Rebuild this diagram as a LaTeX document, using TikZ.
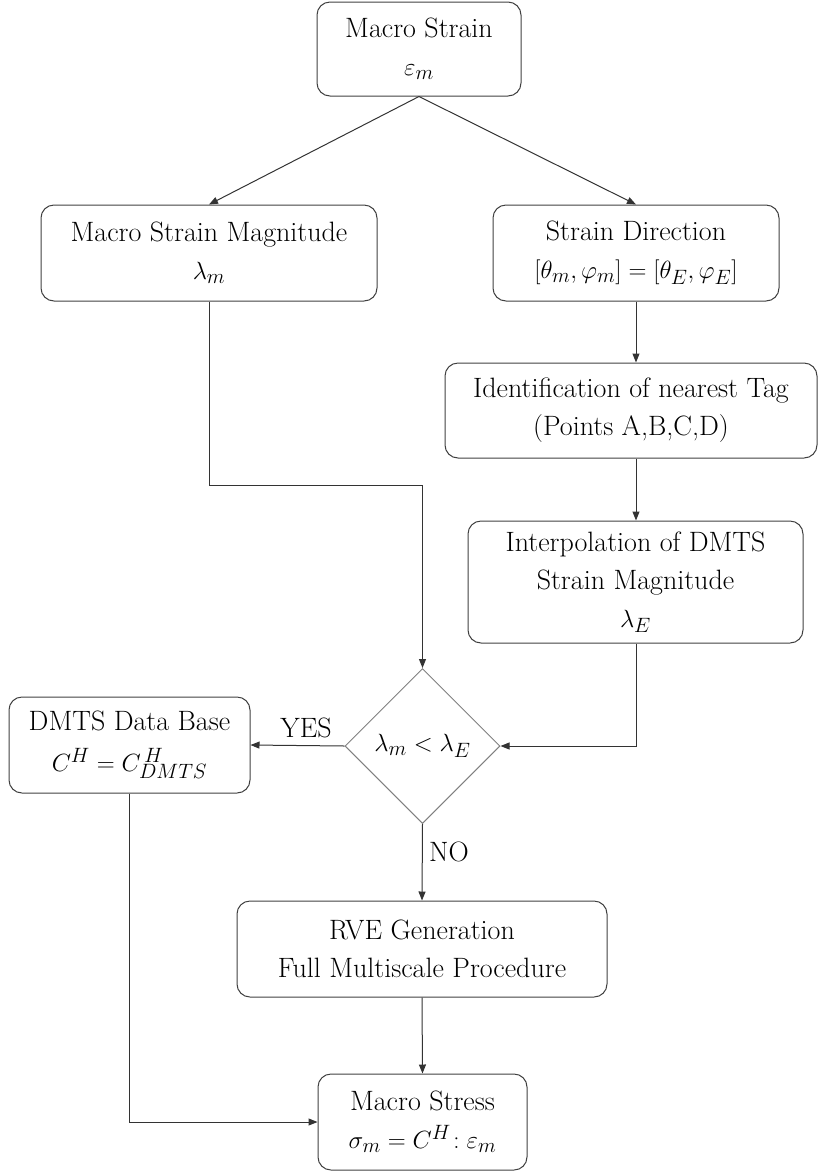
\documentclass[tikz,border=0pt]{standalone}
\usetikzlibrary{shapes.geometric,arrows.meta}
\begin{document}
\begin{tikzpicture}[x=1pt,y=-1pt,
  box/.style={draw=black!75,line width=1pt,rounded corners=13pt,align=center,inner sep=0pt,
    font=\fontsize{28}{38}\selectfont},
  dec/.style={draw=black!50,line width=1pt,shape=diamond,aspect=1,inner sep=0pt,
    minimum width=155pt,minimum height=155pt,font=\fontsize{28}{38}\selectfont},
  conn/.style={draw=black!80,line width=1pt,-{Triangle[length=9pt,width=7pt]}},
  lbl/.style={font=\fontsize{28}{32}\selectfont,inner sep=0pt}]
\useasboundingbox (0,0) rectangle (818,1171);
\node[box,minimum width=204pt,minimum height=94pt] (ms) at (419,49) {Macro Strain\\$\varepsilon_m$};
\node[box,minimum width=336pt,minimum height=96pt] (mag) at (209,253) {Macro Strain Magnitude\\$\lambda_m$};
\node[box,minimum width=286pt,minimum height=96pt] (dir) at (636,253) {Strain Direction\\$[\theta_m,\varphi_m]=[\theta_E,\varphi_E]$};
\node[box,minimum width=372pt,minimum height=95pt] (ident) at (631,410.5) {Identification of nearest Tag\\(Points A,B,C,D)};
\node[box,minimum width=335pt,minimum height=122pt] (interp) at (635.5,582) {Interpolation of DMTS\\Strain Magnitude\\$\lambda_E$};
\node[dec] (d) at (422.5,746) {$\lambda_m<\lambda_E$};
\node[box,minimum width=241pt,minimum height=96pt] (db) at (129.5,745) {DMTS Data Base\\[3pt]$C^H=C^{\,H}_{DMTS}$};
\node[box,minimum width=370pt,minimum height=96pt] (rve) at (422,949) {RVE Generation\\Full Multiscale Procedure};
\node[box,minimum width=209pt,minimum height=96pt] (st) at (422.5,1122) {Macro Stress\\$\sigma_m=C^H\!:\varepsilon_m$};
\coordinate (elbow) at (422.5,485);
\node[lbl] (yes) at (306,728) {YES};
\node[lbl] (no) at (449,852) {NO};
\draw[conn] (ms.south) -- (mag.north);
\draw[conn] (ms.south) -- (dir.north);
\draw[conn] (dir.south) -- (dir.south |- ident.north);
\draw[conn] (dir.south |- ident.south) -- (dir.south |- interp.north);
\draw[conn] (interp.south -| dir.south) |- (d.east);
\draw[conn] (mag.south) |- (elbow) -- (d.north);
\draw[conn] (d.west) -- (db.east);
\draw[conn] (d.south) -- (rve.north);
\draw[conn] (rve.south) -- (st.north);
\draw[conn] (db.south) |- (st.west);
\end{tikzpicture}
\end{document}
